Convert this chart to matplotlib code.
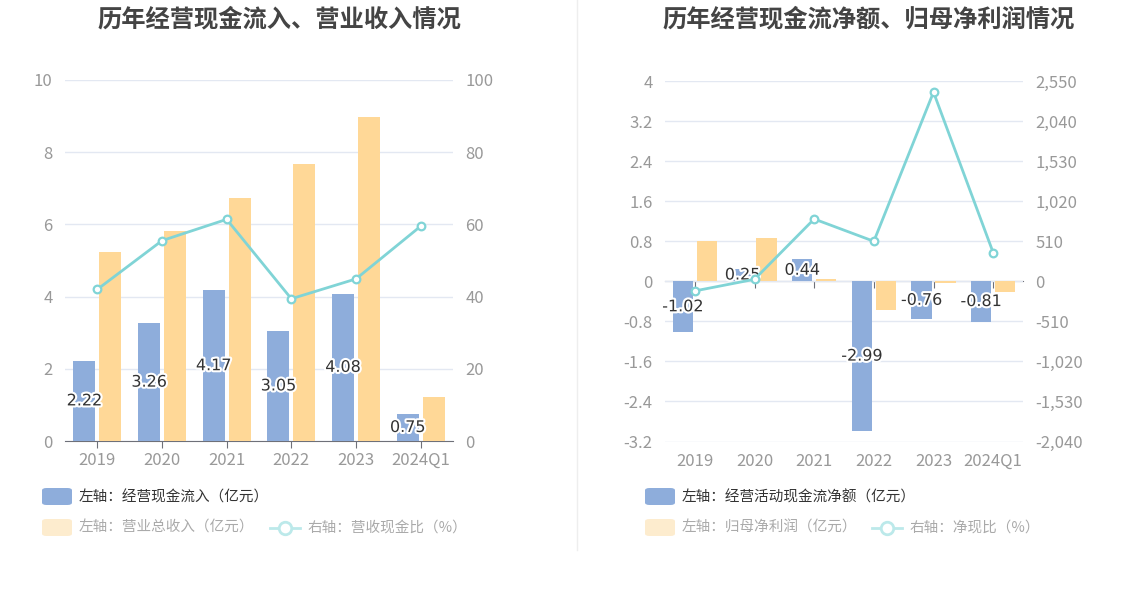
import matplotlib
matplotlib.use("Agg")
import matplotlib.pyplot as plt
import matplotlib.patheffects as pe
from matplotlib.patches import FancyBboxPatch
from matplotlib.lines import Line2D
import numpy as np

plt.rcParams['font.family'] = ['Noto Sans CJK SC', 'DejaVu Sans']

categories = ['2019', '2020', '2021', '2022', '2023', '2024Q1']

# Left chart
cash_inflow = [2.22, 3.26, 4.17, 3.05, 4.08, 0.75]        # 亿元
revenue = [5.24, 5.82, 6.74, 7.68, 8.98, 1.23]            # 亿元
cash_rev_ratio = [42.0, 55.5, 61.4, 39.4, 44.9, 59.5]     # %

# Right chart
net_cash_flow = [-1.02, 0.25, 0.44, -2.99, -0.76, -0.81]  # 亿元
net_profit = [0.81, 0.86, 0.05, -0.58, -0.03, -0.21]      # 亿元
net_cash_ratio = [-123, 25, 793, 509, 2408, 365]          # %

left_ticks_l = [0, 2, 4, 6, 8, 10]
right_ticks_l = [0, 20, 40, 60, 80, 100]
left_ticks_r = [-3.2, -2.4, -1.6, -0.8, 0, 0.8, 1.6, 2.4, 3.2, 4]
right_ticks_r = [-2040, -1530, -1020, -510, 0, 510, 1020, 1530, 2040, 2550]

BLUE = '#8EADDB'
YELLOW = '#FFD897'
TEAL = '#80D4D6'
GRID = '#E3E8F2'
AXIS = '#6E7079'
TICKLBL = '#999999'
TITLE = '#444444'

W, H = 1148, 589
fig = plt.figure(figsize=(W / 100, H / 100), dpi=100)


def fx(px):
    return px / W


def fy(py):
    return 1 - py / H


x = np.arange(len(categories))
bw = 0.34
off = 0.2

stroke = [pe.withStroke(linewidth=3, foreground='white')]


def setup_common(ax, ax2):
    ax.set_xlim(-0.5, len(categories) - 0.5)
    for s in ['top', 'right', 'left', 'bottom']:
        ax.spines[s].set_visible(False)
        ax2.spines[s].set_visible(False)
    ax.grid(axis='y', color=GRID, lw=1)
    ax.set_axisbelow(True)
    ax.tick_params(axis='y', length=0, colors=TICKLBL, labelsize=12, pad=9)
    ax2.tick_params(axis='y', length=0, colors=TICKLBL, labelsize=12, pad=9)
    ax.set_xticks(x)
    ax.set_xticklabels(categories)
    ax.tick_params(axis='x', length=0, colors=TICKLBL, labelsize=12, pad=8)


# ---------------- Left chart ----------------
axL = fig.add_axes([fx(65), fy(441), fx(453 - 65), (441 - 80) / H])
axL2 = axL.twinx()
setup_common(axL, axL2)
axL.set_ylim(0, 10)
axL.set_yticks(left_ticks_l)
axL.set_yticklabels([f'{v:g}' for v in left_ticks_l])
axL2.set_ylim(0, 100)
axL2.set_yticks(right_ticks_l)
axL2.set_yticklabels([f'{v:g}' for v in right_ticks_l])

axL.bar(x - off, cash_inflow, bw, color=BLUE, zorder=2)
axL.bar(x + off, revenue, bw, color=YELLOW, zorder=2)
for xi, v in zip(x, cash_inflow):
    axL.text(xi - off, v / 2, f'{v:.2f}', ha='center', va='center', fontsize=11.5,
             color='#333333', path_effects=stroke, zorder=5, family='DejaVu Sans')
axL2.plot(x, cash_rev_ratio, color=TEAL, lw=2, marker='o', ms=5.5, mfc='white',
          mec=TEAL, mew=1.6, zorder=3)
secL = axL.secondary_xaxis(0)
secL.set_xticks(x)
secL.set_xticklabels([])
secL.tick_params(axis='x', length=5, color=AXIS, direction='out')
secL.spines['bottom'].set_color(AXIS)

# ---------------- Right chart ----------------
axR = fig.add_axes([fx(665), fy(441.5), fx(1023 - 665), (441.5 - 81) / H])
axR2 = axR.twinx()
setup_common(axR, axR2)
axR.set_ylim(-3.2, 4)
axR.set_yticks(left_ticks_r)
axR.set_yticklabels([f'{v:g}' for v in left_ticks_r])
axR2.set_ylim(-2040, 2550)
axR2.set_yticks(right_ticks_r)
axR2.set_yticklabels([f'{v:,}' for v in right_ticks_r])

axR.bar(x - off, net_cash_flow, bw, color=BLUE, zorder=2)
axR.bar(x + off, net_profit, bw, color=YELLOW, zorder=2)
for xi, v in zip(x, net_cash_flow):
    axR.text(xi - off, v / 2, f'{v:.2f}', ha='center', va='center', fontsize=11.5,
             color='#333333', path_effects=stroke, zorder=5, family='DejaVu Sans')
axR2.plot(x, net_cash_ratio, color=TEAL, lw=2, marker='o', ms=5.5, mfc='white',
          mec=TEAL, mew=1.6, zorder=3)
zero_loc = (0 - (-3.2)) / (4 - (-3.2))
secR = axR.secondary_xaxis(zero_loc)
secR.set_xticks(x)
secR.set_xticklabels([])
secR.tick_params(axis='x', length=5, color=AXIS, direction='out')
secR.spines['bottom'].set_color(AXIS)

# ---------------- Titles ----------------
fig.text(fx(279), fy(19), '历年经营现金流入、营业收入情况', ha='center', va='center',
         fontsize=17.5, fontweight='bold', color=TITLE)
fig.text(fx(869), fy(19), '历年经营现金流净额、归母净利润情况', ha='center', va='center',
         fontsize=17.5, fontweight='bold', color=TITLE)

# divider
fig.add_artist(Line2D([fx(577), fx(577)], [fy(0), fy(550)], color='#EEEEEE', lw=1))


# ---------------- Legends ----------------
def box(px, py, color):
    fig.add_artist(FancyBboxPatch((fx(px), fy(py + 17)), fx(30), 17 / H,
                                  boxstyle='round,pad=0,rounding_size=0.004',
                                  facecolor=color, edgecolor='none',
                                  transform=fig.transFigure))


def line_item(px, py):
    fig.add_artist(Line2D([fx(px), fx(px + 30)], [fy(py), fy(py)], color='#BCE9EA', lw=2))
    fig.add_artist(Line2D([fx(px + 15)], [fy(py)], marker='o', ms=9, mfc='white',
                          mec='#BCE9EA', mew=2))


# left legend
box(42, 488, BLUE)
fig.text(fx(79), fy(497), '左轴：经营现金流入（亿元）', ha='left', va='center', fontsize=10.5, color='#333333')
box(42, 519, '#FDECCE')
fig.text(fx(79), fy(528), '左轴：营业总收入（亿元）', ha='left', va='center', fontsize=10.5, color='#AAAAAA')
line_item(270, 528)
fig.text(fx(307), fy(528), '右轴：营收现金比（%）', ha='left', va='center', fontsize=10.5, color='#AAAAAA')

# right legend
box(645, 488, BLUE)
fig.text(fx(682), fy(497), '左轴：经营活动现金流净额（亿元）', ha='left', va='center', fontsize=10.5, color='#333333')
box(645, 519, '#FDECCE')
fig.text(fx(682), fy(528), '左轴：归母净利润（亿元）', ha='left', va='center', fontsize=10.5, color='#AAAAAA')
line_item(872, 528)
fig.text(fx(909), fy(528), '右轴：净现比（%）', ha='left', va='center', fontsize=10.5, color='#AAAAAA')

fig.savefig('out.png', dpi=100)
